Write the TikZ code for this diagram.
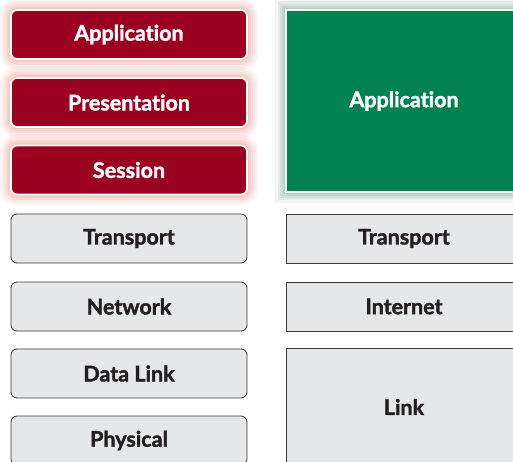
\documentclass[tikz,border=0pt]{standalone}
\usepackage{fontspec}
\setmainfont{Lato}[Ligatures={NoCommon}, BoldFeatures={FakeBold=1.6}]
\usepackage{tikz}
\usetikzlibrary{positioning}
\definecolor{osired}{HTML}{9C0020}
\definecolor{tcpgreen}{HTML}{00834F}
\definecolor{layergray}{HTML}{E6E7E8}
\definecolor{layerline}{HTML}{3A3A3A}
\definecolor{labeldark}{HTML}{231F20}
\definecolor{redglow}{HTML}{E06A55}
\definecolor{greenglow}{HTML}{3E7A5E}

\begin{document}
\begin{tikzpicture}[x=1pt, y=-1pt,
  layer/.style={draw=layerline, line width=0.8pt, fill=layergray,
    minimum width=236pt, minimum height=49pt, inner sep=0pt,
    font=\fontsize{21.5}{23}\selectfont\bfseries, text=labeldark},
  osi/.style={layer, rounded corners=6pt},
  glow/.style={draw=white, line width=1.8pt, text=white,
    preaction={draw=#1, draw opacity=0.07, line width=22pt},
    preaction={draw=#1, draw opacity=0.08, line width=17pt},
    preaction={draw=#1, draw opacity=0.09, line width=12pt},
    preaction={draw=#1, draw opacity=0.10, line width=8pt},
    preaction={draw=#1, draw opacity=0.12, line width=4pt}},
  upper/.style={osi, fill=osired, glow=redglow},
  tcpapp/.style={layer, fill=tcpgreen, glow=greenglow,
    minimum height=182pt}
]
\useasboundingbox (0,0) rectangle (513,462);

% OSI model
\node[upper] (app) at (129, 34.5) {Application};
\node[upper] (pres) at (129, 102.5) {Presentation};
\node[upper] (sess) at (129, 170) {Session};
\node[osi] (trans) at (129, 238.5) {Transport};
\node[osi] (net) at (129, 306.5) {Network};
\node[osi] (dlink) at (129, 373.5) {Data Link};
\node[osi] (phys) at (129, 440.5) {Physical};

% TCP/IP model
\node[tcpapp] (tapp) at (404, 101) {Application};
\node[layer] (ttrans) at (404, 238.5) {Transport};
\node[layer] (tinet) at (404, 306.5) {Internet};
\node[layer, minimum height=118pt] (tlink) at (404, 407) {Link};
\end{tikzpicture}
\end{document}
